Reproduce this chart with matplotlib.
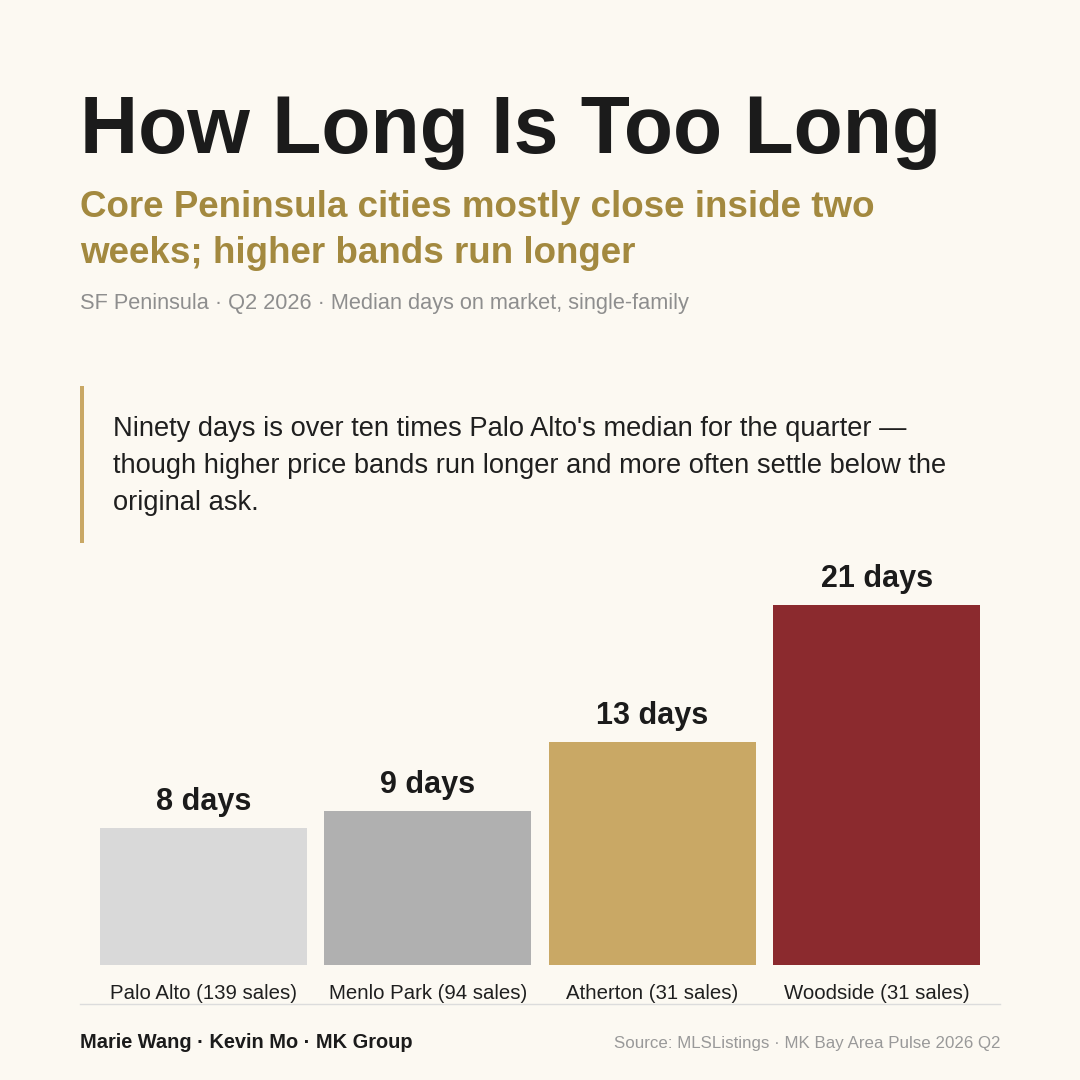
import matplotlib
matplotlib.use("Agg")
import matplotlib.pyplot as plt
from matplotlib.transforms import blended_transform_factory

plt.rcParams['font.family'] = ['Liberation Sans', 'DejaVu Sans']

# data
cities = ["Palo Alto", "Menlo Park", "Atherton", "Woodside"]
sales = [139, 94, 31, 31]
median_days = [8, 9, 13, 21]
bar_colors = ["#D9D9D9", "#B0B0B0", "#C9A865", "#8B2A2E"]

title = "How Long Is Too Long"
subtitle_lines = ["Core Peninsula cities mostly close inside two",
                  "weeks; higher bands run longer"]
meta = "SF Peninsula · Q2 2026 · Median days on market, single-family"
quote_lines = ["Ninety days is over ten times Palo Alto's median for the quarter —",
               "though higher price bands run longer and more often settle below the",
               "original ask."]
byline = "Marie Wang · Kevin Mo · MK Group"
source = "Source: MLSListings · MK Bay Area Pulse 2026 Q2"

BG = "#FCF9F2"
W = H = 1080


def fx(px):
    return px / W


def fy(py):
    return 1 - py / H


fig = plt.figure(figsize=(10.8, 10.8), dpi=100, facecolor=BG)

# header
fig.text(fx(80), fy(153), title, fontsize=58, fontweight="bold",
         color="#1B1B1B", va="baseline", ha="left")
for i, line in enumerate(subtitle_lines):
    fig.text(fx(80), fy(217 + 46 * i), line, fontsize=26.5, fontweight="bold",
             color="#A3893F", va="baseline", ha="left")
fig.text(fx(80), fy(309), meta, fontsize=15.7, color="#8E8E8E",
         va="baseline", ha="left")

# quote block
fig.add_artist(plt.Rectangle((fx(80), fy(543)), fx(4), (543 - 386) / H,
                             transform=fig.transFigure, color="#C9A865", lw=0))
for i, line in enumerate(quote_lines):
    fig.text(fx(113), fy(436 + 37 * i), line, fontsize=19.6, color="#1F1F1F",
             va="baseline", ha="left")

# bars
ax = fig.add_axes([fx(80), fy(965), 920 / W, 405 / H])
ax.set_facecolor(BG)
x = list(range(len(cities)))
ax.bar(x, median_days, width=0.922, color=bar_colors)
ax.set_xlim(-0.55, 3.55)
ax.set_ylim(0, 405 / 17.13)
for s in ax.spines.values():
    s.set_visible(False)
ax.set_xticks([])
ax.set_yticks([])

for i, v in enumerate(median_days):
    ax.annotate(f"{v} days", xy=(i, v), xytext=(0, 13), textcoords="offset points",
                ha="center", va="baseline", fontsize=22, fontweight="bold",
                color="#1B1B1B")

trans = blended_transform_factory(ax.transData, fig.transFigure)
for i, (c, n) in enumerate(zip(cities, sales)):
    ax.text(i, fy(999), f"{c} ({n} sales)", transform=trans, ha="center",
            va="baseline", fontsize=14.65, color="#1F1F1F")

# divider + footer
fig.add_artist(plt.Line2D([fx(80), fx(1000)], [fy(1003.5), fy(1003.5)],
                          transform=fig.transFigure, color="#DCDCDC", lw=1))
fig.text(fx(80), fy(1048), byline, fontsize=14.4, fontweight="bold",
         color="#1B1B1B", va="baseline", ha="left")
fig.text(fx(1000), fy(1048), source, fontsize=12.2, color="#999999",
         va="baseline", ha="right")

fig.savefig("out.png", dpi=100, facecolor=BG)
